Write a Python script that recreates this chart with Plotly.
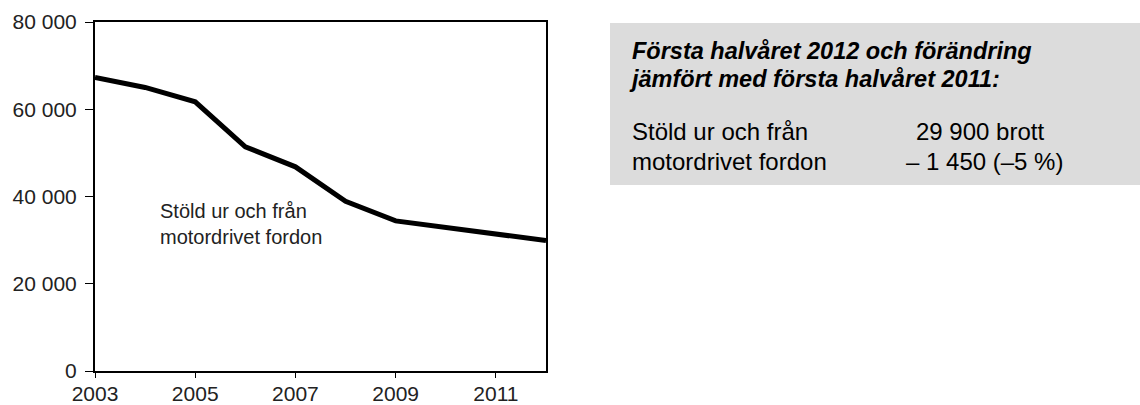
import plotly.graph_objects as go

# Stöld ur och från motordrivet fordon, 2003-2012 (first half-year figures)
years = [2003, 2004, 2005, 2006, 2007, 2008, 2009, 2010, 2011, 2012]
thefts = [67300, 65000, 61700, 51400, 46800, 38900, 34400, 32900, 31300, 29900]

x_ticks = [2003, 2005, 2007, 2009, 2011]
y_ticks = [0, 20000, 40000, 60000, 80000]
y_labels = ["0", "20 000", "40 000", "60 000", "80 000"]

series_label = "Stöld ur och från<br>motordrivet fordon"
box_title = ["Första halvåret 2012 och förändring", "jämfört med första halvåret 2011:"]
box_left = ["Stöld ur och från", "motordrivet fordon"]
box_right = ["29 900 brott", "– 1 450 (–5 %)"]

W, H = 1140, 405
L, R, T, B = 95, 546, 22, 371
FONT = "Arial, Liberation Sans, sans-serif"


def px_x(p):
    return (p - L) / (R - L)


def px_y(p):
    return (B - p) / (B - T)


fig = go.Figure()
fig.add_trace(
    go.Scatter(
        x=years, y=thefts, mode="lines",
        line=dict(color="black", width=5),
        hoverinfo="skip", showlegend=False,
    )
)

# grey info box
fig.add_shape(
    type="rect", xref="paper", yref="paper",
    x0=px_x(610), x1=px_x(1145), y0=px_y(185), y1=px_y(23),
    fillcolor="#dcdcdc", line=dict(width=0), layer="below",
)

fig.add_annotation(
    text=series_label, xref="paper", yref="paper",
    x=px_x(158), y=px_y(224), xanchor="left", yanchor="middle", align="left",
    showarrow=False, font=dict(family=FONT, size=20, color="#222"),
)

title_x = [630, 627]
for i, line in enumerate(box_title):
    fig.add_annotation(
        text=f"<b><i>{line}</i></b>", xref="paper", yref="paper",
        x=px_x(title_x[i]), y=px_y(51 + 27.5 * i), xanchor="left", yanchor="middle",
        showarrow=False, font=dict(family=FONT, size=23.5, color="black"),
    )

right_x = [914, 904]
for i, (left, right) in enumerate(zip(box_left, box_right)):
    fig.add_annotation(
        text=left, xref="paper", yref="paper",
        x=px_x(630), y=px_y(131 + 30 * i), xanchor="left", yanchor="middle",
        showarrow=False, font=dict(family=FONT, size=24, color="black"),
    )
    fig.add_annotation(
        text=right, xref="paper", yref="paper",
        x=px_x(right_x[i]), y=px_y(131 + 30 * i), xanchor="left", yanchor="middle",
        showarrow=False, font=dict(family=FONT, size=24, color="black"),
    )

fig.update_xaxes(
    range=[2003, 2012], tickvals=x_ticks, ticks="outside", ticklen=5,
    ticklabelstandoff=-2,
    tickcolor="black", showgrid=False, zeroline=False, automargin=False,
    showline=True, linecolor="black", linewidth=2, mirror=True,
    tickfont=dict(family=FONT, size=21, color="#222"),
)
fig.update_yaxes(
    range=[0, 80000], tickvals=y_ticks, ticktext=y_labels, ticks="outside",
    ticklen=8, ticklabelstandoff=4,
    tickcolor="black", showgrid=False, zeroline=False, automargin=False,
    showline=True, linecolor="black", linewidth=2, mirror=True,
    tickfont=dict(family=FONT, size=21, color="#222"),
)

fig.update_layout(
    width=W, height=H,
    margin=dict(l=L, r=W - R, t=T, b=H - B),
    plot_bgcolor="white", paper_bgcolor="white",
    showlegend=False,
)

# drop the default 8px page margin so the figure sits at the window's corner
fig.write_html(
    "out.html",
    config={"displayModeBar": False},
    post_script="document.body.style.margin='0';document.body.style.overflow='hidden';",
)
